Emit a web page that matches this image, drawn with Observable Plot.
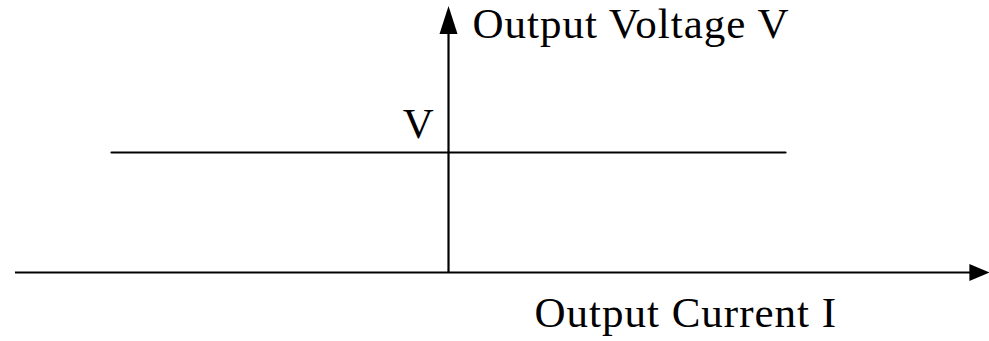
<!DOCTYPE html>
<html>
<head>
<meta charset="utf-8">
<script src="https://cdn.jsdelivr.net/npm/d3@7"></script>
<script src="https://cdn.jsdelivr.net/npm/@observablehq/plot@0.6"></script>
<style>
  html, body { margin: 0; padding: 0; background: #fff; }
</style>
</head>
<body>
<div id="chart"></div>
<script>
// Current axis extent (relative units), voltage axis extent
const currentAxis = [-1.285, 1.605];
const voltageAxis = [0, 2.22];
// Constant-voltage output characteristic
const currentValues = [-1, 1];
const voltageValues = [1, 1];
// Labels
const labelTexts = ["Output Voltage V", "V", "Output Current I"];
const labelX = [0.071, -0.041, 0.255];
const labelY = [1.958, 1.125, -0.458];
const labelAnchor = ["start", "end", "start"];

const lineData = currentValues.map((c, i) => ({current: c, voltage: voltageValues[i]}));
const labels = labelTexts.map((t, i) => ({text: t, x: labelX[i], y: labelY[i], anchor: labelAnchor[i]}));

// Arrowhead symbols with the tip at the origin
const arrowRight = {draw(ctx) { ctx.moveTo(0, 0); ctx.lineTo(-20, -8.5); ctx.lineTo(-20, 8.5); ctx.closePath(); }};
const arrowUp = {draw(ctx) { ctx.moveTo(0, 0); ctx.lineTo(-9, 28); ctx.lineTo(9, 28); ctx.closePath(); }};

const chart = Plot.plot({
  width: 989,
  height: 341,
  margin: 0,
  x: {domain: [-1.3294, 1.6053], axis: null},
  y: {domain: [-0.575, 2.2667], axis: null},
  style: {background: "#fff", letterSpacing: "1px"},
  marks: [
    Plot.ruleY([0], {x1: currentAxis[0], x2: currentAxis[1] - 0.03, stroke: "#000", strokeWidth: 2.2}),
    Plot.ruleX([0], {y1: voltageAxis[0], y2: voltageAxis[1] - 0.1, stroke: "#000", strokeWidth: 2.2}),
    Plot.dot([{x: currentAxis[1], y: 0}], {x: "x", y: "y", symbol: arrowRight, r: 5, fill: "#000", stroke: "none"}),
    Plot.dot([{x: 0, y: voltageAxis[1]}], {x: "x", y: "y", symbol: arrowUp, r: 5, fill: "#000", stroke: "none"}),
    Plot.line(lineData, {x: "current", y: "voltage", stroke: "#000", strokeWidth: 2.2}),
    ...labels.map(d => Plot.text([d], {
      x: "x", y: "y", text: "text", textAnchor: d.anchor, lineAnchor: "bottom",
      fontFamily: "Liberation Serif", fontSize: 43, fill: "#000"
    }))
  ]
});
document.getElementById("chart").appendChild(chart);
</script>
</body>
</html>
